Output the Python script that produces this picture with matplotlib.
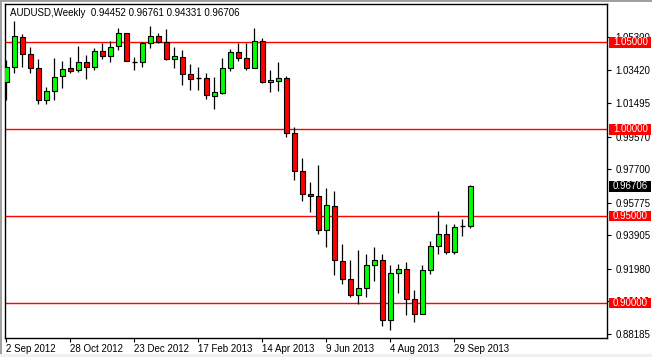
import matplotlib.pyplot as plt
from matplotlib.patches import Rectangle

plt.rcParams['font.family'] = ['Liberation Sans', 'DejaVu Sans']

# ── AUDUSD weekly candles, 2 Sep 2012 .. 13 Oct 2013 ─────────────────
opens = [1.0273, 1.0360, 1.0529, 1.0431, 1.0350, 1.0168, 1.0219, 1.0306, 1.0350, 1.0340,
         1.0388, 1.0356, 1.0452, 1.0421, 1.0479, 1.0552, 1.0388, 1.0385, 1.0494, 1.0536,
         1.0500, 1.0406, 1.0417, 1.0317, 1.0293, 1.0293, 1.0192, 1.0210, 1.0350, 1.0443,
         1.0408, 1.0350, 1.0506, 1.0270, 1.0279, 1.0293, 0.9981, 0.9762, 0.9630, 0.9618,
         0.9418, 0.9560, 0.9241, 0.9140, 0.9043, 0.9088, 0.9220, 0.9249, 0.8903, 0.9174,
         0.9197, 0.9024, 0.8938, 0.9192, 0.9326, 0.9399, 0.9293, 0.9445, 0.94452]
highs = [1.0398, 1.0625, 1.0548, 1.0471, 1.0402, 1.0244, 1.0408, 1.0392, 1.0414, 1.0480,
         1.0427, 1.0466, 1.0494, 1.0509, 1.0581, 1.0555, 1.0417, 1.0504, 1.0594, 1.0552,
         1.0575, 1.0475, 1.0456, 1.0373, 1.0360, 1.0325, 1.0298, 1.0408, 1.0460, 1.0498,
         1.0498, 1.0581, 1.0523, 1.0340, 1.0388, 1.0306, 1.0010, 0.9837, 0.9697, 0.9793,
         0.9664, 0.9643, 0.9341, 0.9249, 0.9307, 0.9284, 0.9322, 0.9284, 0.9220, 0.9226,
         0.9235, 0.9072, 0.9216, 0.9355, 0.9529, 0.9457, 0.9457, 0.9486, 0.96761]
lows = [1.0168, 1.0321, 1.0360, 1.0325, 1.0148, 1.0148, 1.0168, 1.0235, 1.0321, 1.0331,
        1.0287, 1.0340, 1.0402, 1.0388, 1.0456, 1.0390, 1.0340, 1.0360, 1.0466, 1.0494,
        1.0398, 1.0350, 1.0254, 1.0225, 1.0225, 1.0172, 1.0114, 1.0202, 1.0336, 1.0392,
        1.0340, 1.0350, 1.0264, 1.0215, 1.0221, 0.9956, 0.9706, 0.9587, 0.9524, 0.9395,
        0.9322, 0.9159, 0.9111, 0.9034, 0.8996, 0.9034, 0.9126, 0.8866, 0.8846, 0.9057,
        0.8928, 0.8889, 0.8938, 0.9164, 0.9280, 0.9280, 0.9280, 0.9384, 0.94331]
closes = [1.0360, 1.0536, 1.0433, 1.0350, 1.0168, 1.0219, 1.0302, 1.0345, 1.0336, 1.0388,
          1.0356, 1.0452, 1.0421, 1.0475, 1.0552, 1.0392, 1.0388, 1.0494, 1.0536, 1.0500,
          1.0404, 1.0419, 1.0317, 1.0290, 1.0293, 1.0196, 1.0212, 1.0350, 1.0443, 1.0408,
          1.0350, 1.0506, 1.0270, 1.0283, 1.0293, 0.9981, 0.9760, 0.9630, 0.9616, 0.9418,
          0.9566, 0.9245, 0.9140, 0.9043, 0.9088, 0.9220, 0.9249, 0.8903, 0.9174, 0.9197,
          0.9024, 0.8938, 0.9192, 0.9326, 0.9399, 0.9293, 0.9437, 0.9445, 0.96706]

date_labels = ["2 Sep 2012", "28 Oct 2012", "23 Dec 2012", "17 Feb 2013",
               "14 Apr 2013", "9 Jun 2013", "4 Aug 2013", "29 Sep 2013"]
date_weeks = [0, 8, 16, 24, 32, 40, 48, 56]
price_ticks = [1.05300, 1.03420, 1.01495, 0.99570, 0.97700,
               0.95775, 0.93905, 0.91980, 0.90110, 0.88185]
levels = [1.05, 1.00, 0.95, 0.90]

# ── Figure ────────────────────────────────────────────────────────────
W, H = 652, 357
fig = plt.figure(figsize=(W / 100, H / 100), dpi=100)
fig.patch.set_facecolor("white")
ax = fig.add_axes([4.5 / W, 1 - 337.5 / H, (607 - 4.5) / W, (337.5 - 4) / H])

idx = list(range(len(opens)))
ax.set_xlim(-0.22, 75.1)
ax.set_ylim(0.8801, 1.0721)

for lv in levels:
    ax.axhline(lv, color="#FF0000", lw=1.0, zorder=1)

ax.vlines(idx, lows, highs, color="black", lw=0.9, zorder=2)

bw = 0.6
for i, o, c in zip(idx, opens, closes):
    if abs(c - o) < 1e-5:
        ax.hlines(o, i - bw / 2, i + bw / 2, color="black", lw=1.0, zorder=3)
        continue
    col = "#00FF00" if c > o else "#FF0000"
    ax.add_patch(Rectangle((i - bw / 2, min(o, c)), bw, abs(c - o),
                           facecolor=col, edgecolor="black", lw=0.8, zorder=3))

# axes look
for s in ax.spines.values():
    s.set_linewidth(1.0)
    s.set_color("black")
ax.set_xticks(date_weeks)
ax.set_xticklabels(date_labels, ha="left", fontsize=7)
ax.tick_params(axis="x", direction="out", length=3, width=0.8, pad=2)
ax.yaxis.tick_right()
ax.set_yticks(price_ticks)
ax.set_yticklabels([f"{t:.5f}" for t in price_ticks], fontsize=7)
ax.tick_params(axis="y", direction="out", length=3, width=0.8, pad=3)

# price labels on the right scale
ytr = ax.get_yaxis_transform()
bx0 = (609 - 4.5) / 602.5
bx1 = (651 - 4.5) / 602.5
tx = (613 - 4.5) / 602.5
box_h = 0.0062
for lv in levels:
    ax.add_patch(Rectangle((bx0, lv - box_h / 2), bx1 - bx0, box_h, transform=ytr,
                           facecolor="#FF0000", edgecolor="none", clip_on=False, zorder=5))
    ax.text(tx, lv, f"{lv:.5f}", transform=ytr, color="white", fontsize=7,
            va="center", ha="left", zorder=6, clip_on=False)
last = closes[-1]
ax.add_patch(Rectangle((bx0, last - box_h / 2), bx1 - bx0, box_h, transform=ytr,
                       facecolor="black", edgecolor="none", clip_on=False, zorder=5))
ax.text(tx, last, f"{last:.5f}", transform=ytr, color="white", fontsize=7,
        va="center", ha="left", zorder=6, clip_on=False)

# header
fig.text(10 / W, 1 - 13 / H,
         f"AUDUSD,Weekly  {opens[-1]:.5f} {highs[-1]:.5f} {lows[-1]:.5f} {closes[-1]:.5f}",
         fontsize=7, va="center", ha="left", color="black")

# window frame
fig.patches.append(Rectangle((0, 0), 2 / W, 1, transform=fig.transFigure,
                             facecolor="#A0A0A0", edgecolor="none"))
fig.patches.append(Rectangle((0, 1 - 2 / H), 1, 2 / H, transform=fig.transFigure,
                             facecolor="#A0A0A0", edgecolor="none"))
fig.patches.append(Rectangle((0, 0), 1, 3 / H, transform=fig.transFigure,
                             facecolor="#F0F0F0", edgecolor="none"))

fig.savefig("out.png", dpi=100, facecolor="white")
